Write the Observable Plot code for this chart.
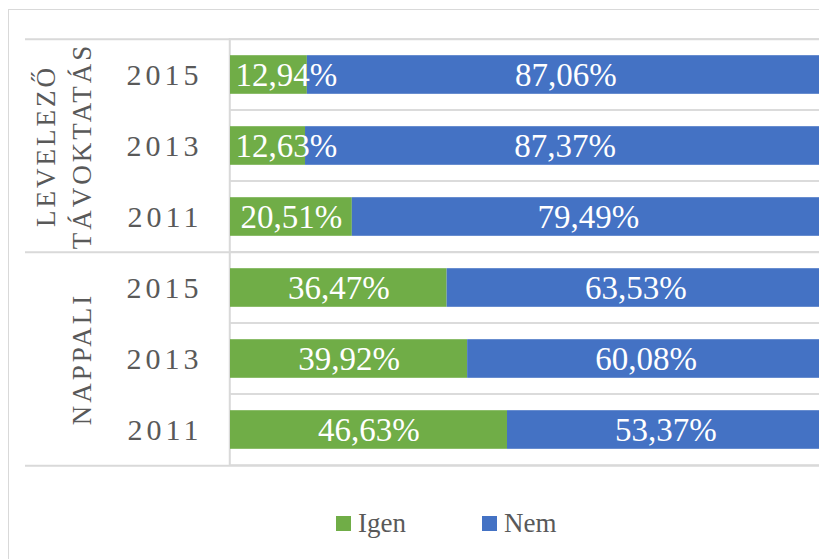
<!DOCTYPE html>
<html>
<head>
<meta charset="utf-8">
<script src="https://cdn.jsdelivr.net/npm/d3@7"></script>
<script src="https://cdn.jsdelivr.net/npm/@observablehq/plot@0.6"></script>
<style>
  html, body { margin: 0; padding: 0; background: #fff; overflow: hidden; }
  body { width: 819px; height: 559px; position: relative; font-family: "Liberation Serif", serif; }
  #border { position: absolute; left: 8px; top: 9px; width: 900px; height: 700px; border: 1px solid #d9d9d9; box-sizing: border-box; }
  #chart { position: absolute; left: 0; top: 0; }
  #legend { position: absolute; left: 336px; top: 510px; display: flex; gap: 76px; align-items: center;
            font-family: "Liberation Serif", serif; font-size: 27px; line-height: 27px; color: #595959; }
  #legend .item { display: flex; align-items: center; gap: 7px; }
  #legend .sw { width: 15px; height: 15px; display: inline-block; }
</style>
</head>
<body>
<div id="border"></div>
<div id="chart"></div>
<div id="legend"></div>
<script>
// ---- data ----
const groups = ["LEVELEZŐ\nTÁVOKTATÁS", "NAPPALI"];
const years = ["2015", "2013", "2011"];
const answers = ["Igen", "Nem"];
const colors = ["#70ad47", "#4472c4"];
const igenValues = [12.94, 12.63, 20.51, 36.47, 39.92, 46.63];
const nemValues = [87.06, 87.37, 79.49, 63.53, 60.08, 53.37];
const xDomain = [0, 100];

// ---- derived tables ----
const rows = [];
groups.forEach(g => years.forEach(y => rows.push({group: g, year: y, key: g + "|" + y})));
const keys = rows.map(r => r.key);
const data = [];
rows.forEach((r, i) => {
  data.push({key: r.key, answer: answers[0], value: igenValues[i]});
  data.push({key: r.key, answer: answers[1], value: nemValues[i]});
});
const groupInfo = groups.map(g => {
  const ks = keys.filter(k => k.startsWith(g + "|"));
  return {group: g, first: ks[0], mid: ks[Math.floor(ks.length / 2)], last: ks[ks.length - 1]};
});
const fmt = v => v.toFixed(2).replace(".", ",") + "%";
const narrow = d => d.answer === answers[0] && d.value < 15;

// ---- layout ----
const W = 819, H = 480, mTop = 38, mBottom = 14, mLeft = 25;
const bw = (H - mTop - mBottom) / keys.length;
const grid = "#d9d9d9";
const serif = "Liberation Serif";

const plot = Plot.plot({
  width: W, height: H,
  marginTop: mTop, marginBottom: mBottom, marginLeft: mLeft, marginRight: 0,
  style: {background: "transparent", overflow: "visible"},
  x: {domain: xDomain, range: [230, 824], axis: null},
  y: {domain: keys, padding: 0, axis: null},
  color: {domain: answers, range: colors},
  marks: [
    // cells in the bar area
    Plot.barX(keys, {x1: xDomain[0], x2: xDomain[1], y: d => d, fill: "none", stroke: grid, strokeWidth: 1.5}),
    // group separators across the full width
    Plot.ruleY(groupInfo, {y: "first", dy: -bw / 2, stroke: grid, strokeWidth: 2}),
    Plot.ruleY(groupInfo.slice(-1), {y: "last", dy: bw / 2, stroke: grid, strokeWidth: 2}),
    Plot.ruleX([xDomain[0]], {stroke: grid, strokeWidth: 1.5, dx: -1}),
    // bars
    Plot.barX(data, Plot.stackX({x: "value", y: "key", fill: "answer", insetTop: 16.2, insetBottom: 16.2})),
    // value labels
    Plot.text(data, Plot.stackX({x: "value", y: "key", text: d => narrow(d) ? "" : fmt(d.value),
      fill: "white", fontSize: 33, fontFamily: serif})),
    Plot.text(data.filter(narrow), Plot.stackX1({x: "value", y: "key", text: d => fmt(d.value),
      textAnchor: "start", dx: 5, fill: "white", fontSize: 33, fontFamily: serif})),
    // year labels
    Plot.text(rows, {y: "key", text: "year", frameAnchor: "left", dx: 177, textAnchor: "end",
      fill: "#595959", fontSize: 30, fontFamily: serif}),
    // group labels
    Plot.text(groupInfo, {y: "mid", text: "group", frameAnchor: "left", dx: 65, rotate: -90,
      lineAnchor: "bottom", lineHeight: 1.3, textAnchor: "middle",
      fill: "#595959", fontSize: 27, fontFamily: serif})
  ]
});
// letter spacing for the category labels (year labels = 4th text mark, group labels = 5th)
const textGroups = plot.querySelectorAll('g[aria-label="text"]');
if (textGroups.length >= 4) {
  textGroups[textGroups.length - 2].style.letterSpacing = "4px";
  textGroups[textGroups.length - 1].style.letterSpacing = "3px";
}
document.getElementById("chart").appendChild(plot);

// ---- legend ----
const legend = document.getElementById("legend");
answers.forEach((a, i) => {
  const item = document.createElement("span");
  item.className = "item";
  const sw = document.createElement("span");
  sw.className = "sw";
  sw.style.background = colors[i];
  const t = document.createElement("span");
  t.textContent = a;
  item.appendChild(sw);
  item.appendChild(t);
  legend.appendChild(item);
});
</script>
</body>
</html>
